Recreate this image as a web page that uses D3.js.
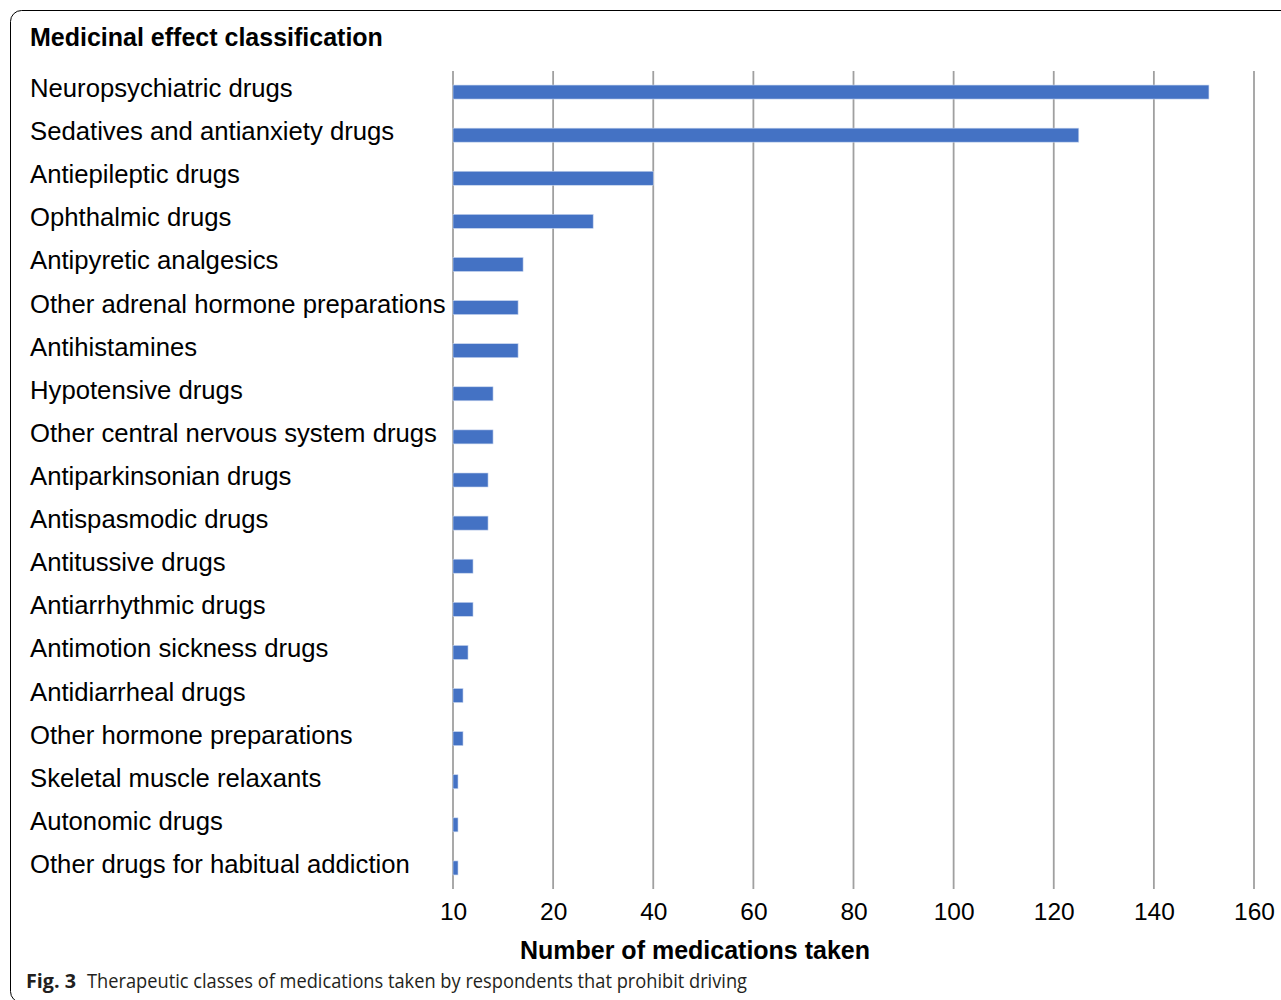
<!DOCTYPE html>
<html><head><meta charset="utf-8">
<script src="https://cdn.jsdelivr.net/npm/d3@7"></script>
<style>body{margin:0;background:#fff;}svg{display:block;}</style>
</head><body>
<svg id="c" width="1281" height="1000"></svg>
<script>
const categories = ["Neuropsychiatric drugs","Sedatives and antianxiety drugs","Antiepileptic drugs","Ophthalmic drugs","Antipyretic analgesics","Other adrenal hormone preparations","Antihistamines","Hypotensive drugs","Other central nervous system drugs","Antiparkinsonian drugs","Antispasmodic drugs","Antitussive drugs","Antiarrhythmic drugs","Antimotion sickness drugs","Antidiarrheal drugs","Other hormone preparations","Skeletal muscle relaxants","Autonomic drugs","Other drugs for habitual addiction"];
const values = [151,125,40,28,14,13,13,8,8,7,7,4,4,3,2,2,1,1,1];
const tickValues = [0,20,40,60,80,100,120,140,160];
const tickLabels = ["10","20","40","60","80","100","120","140","160"];
const title = "Medicinal effect classification";
const xTitle = "Number of medications taken";

const svg = d3.select("#c");
svg.append("rect").attr("x",10.5).attr("y",10.5).attr("width",1320).attr("height",992)
  .attr("rx",11).attr("fill","none").attr("stroke","#000").attr("stroke-width",1);

const x = d3.scaleLinear().domain([0,160]).range([453,1254]);
const y = d3.scaleBand().domain(categories).range([70.5,889.5]).paddingInner(0.675).paddingOuter(0.3375);

const font = "'Liberation Sans', Arial, sans-serif";

svg.append("text").attr("x",30).attr("y",46).attr("font-family",font).attr("font-weight","bold")
  .attr("font-size",25).attr("fill","#000").text(title);

// gridlines
svg.append("g").selectAll("line").data(tickValues).join("line")
  .attr("x1",d=>x(d)).attr("x2",d=>x(d)).attr("y1",71).attr("y2",889)
  .attr("stroke","#a0a0a0").attr("stroke-width",1.8);

// bars
svg.append("g").selectAll("rect").data(values).join("rect")
  .attr("x",x(0)).attr("y",(d,i)=>y(categories[i]))
  .attr("width",d=>x(d)-x(0)).attr("height",y.bandwidth())
  .attr("fill","#4472c4").attr("stroke","#c9d6ee").attr("stroke-width",0.6);

// category labels
svg.append("g").selectAll("text").data(categories).join("text")
  .attr("x",30).attr("y",d=>y(d)+y.bandwidth()/2+5)
  .attr("font-family",font).attr("font-size",25.7).attr("fill","#000").text(d=>d);

// x axis
const axis = d3.axisBottom(x).tickValues(tickValues).tickFormat((d,i)=>tickLabels[i]).tickSize(0).tickPadding(0);
const gx = svg.append("g").attr("transform","translate(0,903)").call(axis);
gx.select(".domain").remove();
gx.selectAll("text").attr("font-family",font).attr("font-size",24.5).attr("fill","#000").attr("dy","0.71em");

svg.append("text").attr("x",695).attr("y",959).attr("text-anchor","middle").attr("font-family",font)
  .attr("font-weight","bold").attr("font-size",25).attr("fill","#000").text(xTitle);

// caption
const cap = svg.append("text").attr("y",988).attr("font-family","'Open Sans', sans-serif").attr("font-size",20).attr("fill","#231f20");
cap.append("tspan").attr("x",26).attr("font-weight","bold").attr("textLength",50).attr("lengthAdjust","spacingAndGlyphs").text("Fig. 3");
cap.append("tspan").attr("x",87).attr("textLength",660).attr("lengthAdjust","spacingAndGlyphs").text("Therapeutic classes of medications taken by respondents that prohibit driving");
</script>
</body></html>
